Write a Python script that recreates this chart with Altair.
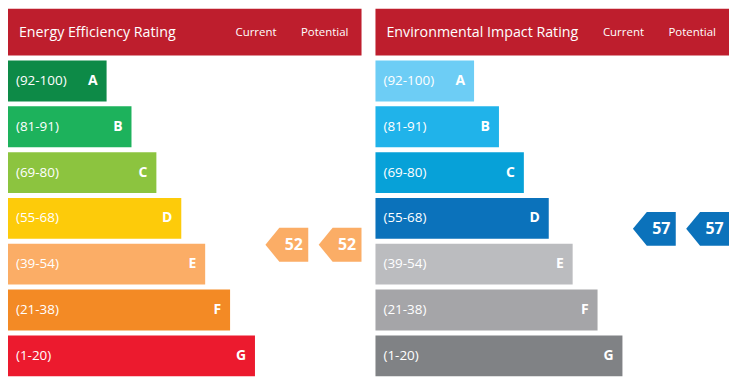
import altair as alt
import pandas as pd

# ---------------- data ----------------
bands = ["A", "B", "C", "D", "E", "F", "G"]
ranges = ["(92-100)", "(81-91)", "(69-80)", "(55-68)", "(39-54)", "(21-38)", "(1-20)"]
bar_lengths = [99, 124, 149, 174, 198, 223, 248]   # relative bar length per band

ee_title = "Energy Efficiency Rating"
ei_title = "Environmental Impact Rating"
columns = ["Current", "Potential"]

ee_colors = ["#0d8a47", "#1db25c", "#8cc43f", "#fdcb0a", "#fbad66", "#f38a25", "#ec1a2e"]
ei_colors = ["#6dcdf5", "#20b3ea", "#07a1d8", "#0b72bb", "#bbbcbf", "#a5a5a8", "#808285"]

ee_current, ee_potential = 52, 52
ei_current, ei_potential = 57, 57
ee_arrow_color = "#fbad66"
ei_arrow_color = "#0b72bb"

# ---------------- layout (style) ----------------
W, H = 355, 369
HEADER_H = 47
ROW_TOP0, ROW_PITCH, ROW_H = 52, 46, 41
COL_LABEL_X = {"Current": 249, "Potential": 318}
COL_ARROW_X = {"Current": 280, "Potential": 333.5}
HEADER_RED = "#be1e2d"
FONT = "Open Sans"
ARROW_PATH = "M -1 0 L -0.35 -0.79 L 1 -0.79 L 1 0.79 L -0.35 0.79 Z"

xs = alt.Scale(domain=[0, W], nice=False, zero=False)
ys = alt.Scale(domain=[0, H], reverse=True, nice=False, zero=False)
# value -> vertical position of the rating arrows
vs = alt.Scale(domain=[10.75, 126.06], nice=False, zero=False)

NO_FRAME = alt.ViewBackground(strokeWidth=0, strokeOpacity=0)


def panel(title, colors, cur, pot, arrow_color):
    rows = pd.DataFrame({
        "band": bands,
        "range": ranges,
        "length": bar_lengths,
        "color": colors,
        "i": list(range(len(bands))),
    })
    rows["top"] = ROW_TOP0 + ROW_PITCH * rows["i"]
    rows["bot"] = rows["top"] + ROW_H
    rows["mid"] = rows["top"] + ROW_H / 2
    rows["zero"] = 0
    rows["letter_x"] = rows["length"] - 9

    header = pd.DataFrame({"x0": [0], "x1": [W], "y0": [0], "y1": [HEADER_H],
                           "title": [title], "tx": [11], "ty": [HEADER_H / 2 + 1]})
    cols = pd.DataFrame({"col": columns,
                         "x": [COL_LABEL_X[c] for c in columns],
                         "y": [HEADER_H / 2 + 1] * 2})
    arrows = pd.DataFrame({"col": columns, "value": [cur, pot],
                           "x": [COL_ARROW_X[c] for c in columns]})

    head_rect = alt.Chart(header).mark_rect(color=HEADER_RED).encode(
        x=alt.X("x0:Q", scale=xs, axis=None), x2="x1:Q",
        y=alt.Y("y0:Q", scale=ys, axis=None), y2="y1:Q")
    head_text = alt.Chart(header).mark_text(
        align="left", baseline="middle", color="white", font=FONT, fontSize=14.3
    ).encode(x=alt.X("tx:Q", scale=xs, axis=None),
             y=alt.Y("ty:Q", scale=ys, axis=None), text="title:N")
    col_text = alt.Chart(cols).mark_text(
        align="center", baseline="middle", color="white", font=FONT, fontSize=11.5
    ).encode(x=alt.X("x:Q", scale=xs, axis=None),
             y=alt.Y("y:Q", scale=ys, axis=None), text="col:N")

    bars = alt.Chart(rows).mark_rect().encode(
        x=alt.X("zero:Q", scale=xs, axis=None), x2="length:Q",
        y=alt.Y("top:Q", scale=ys, axis=None), y2="bot:Q",
        color=alt.Color("color:N", scale=None))
    range_text = alt.Chart(rows).mark_text(
        align="left", baseline="middle", color="white", font=FONT, fontSize=13.5, dx=8
    ).encode(x=alt.X("zero:Q", scale=xs, axis=None),
             y=alt.Y("mid:Q", scale=ys, axis=None), text="range:N")
    letter_text = alt.Chart(rows).mark_text(
        align="right", baseline="middle", color="white", font=FONT, fontSize=14,
        fontWeight="bold"
    ).encode(x=alt.X("letter_x:Q", scale=xs, axis=None),
             y=alt.Y("mid:Q", scale=ys, axis=None), text="band:N")

    base_layers = alt.layer(head_rect, head_text, col_text, bars, range_text,
                            letter_text).properties(view=NO_FRAME)

    arrow = alt.Chart(arrows).mark_point(
        shape=ARROW_PATH, size=43 * 43, filled=True, opacity=1, strokeWidth=0,
        color=arrow_color
    ).encode(x=alt.X("x:Q", scale=xs, axis=None),
             y=alt.Y("value:Q", scale=vs, axis=None))
    arrow_text = alt.Chart(arrows).mark_text(
        align="center", baseline="middle", color="white", font=FONT, fontSize=16,
        fontWeight="bold", dx=7
    ).encode(x=alt.X("x:Q", scale=xs, axis=None),
             y=alt.Y("value:Q", scale=vs, axis=None), text="value:Q")
    arrow_layers = alt.layer(arrow, arrow_text).properties(view=NO_FRAME)

    return alt.layer(base_layers, arrow_layers).resolve_scale(y="independent").properties(
        width=W, height=H, view=NO_FRAME)


left = panel(ee_title, ee_colors, ee_current, ee_potential, ee_arrow_color)
right = panel(ei_title, ei_colors, ei_current, ei_potential, ei_arrow_color)

chart = alt.hconcat(left, right, spacing=14).properties(padding=0).configure_view(
    stroke="transparent", strokeWidth=0, strokeOpacity=0).configure(background="white")

chart.save("out.html", embed_options={"renderer": "svg", "actions": False})
